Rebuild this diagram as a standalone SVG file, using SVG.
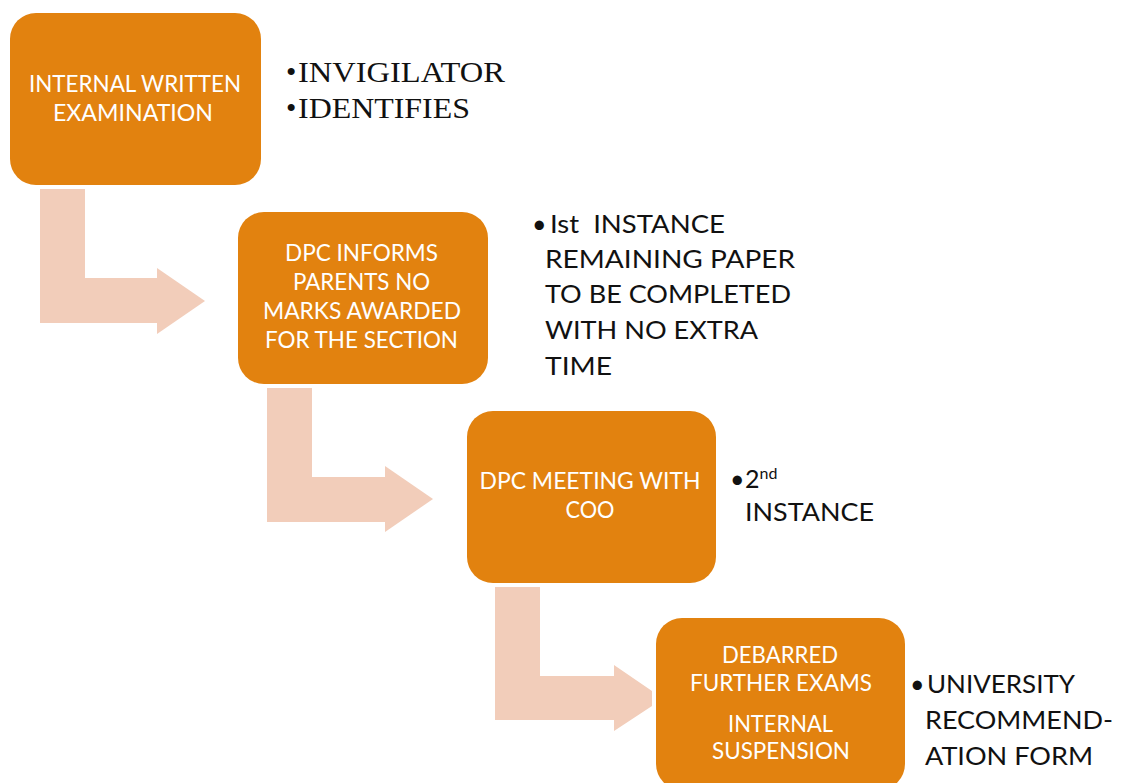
<svg xmlns="http://www.w3.org/2000/svg" width="1127" height="783" viewBox="0 0 1127 783">
<style>
.box{fill:#E2820F;}
.arrow{fill:#F2CDBA;}
.bt{font-family:Lato,"Liberation Sans",sans-serif;font-size:22.5px;fill:#FFFFFF;text-anchor:middle;}
.st{font-family:Lato,"Liberation Sans",sans-serif;font-size:25px;fill:#111111;}
.sf{font-family:"Liberation Serif","Times New Roman",serif;font-size:29.5px;fill:#111111;}
</style>
<rect width="1127" height="783" fill="#FFFFFF"/>
<g id="connectors">
<polygon class="arrow" points="40,189 85,189 85,278 157,278 157,268 205,301 157,334 157,323 40,323"/>
<polygon class="arrow" points="267,388 312,388 312,477 385,477 385,466 433,499 385,532 385,522 267,522"/>
<polygon class="arrow" points="495,587 540,587 540,676 614,676 614,665 652,691 652,706 614,731 614,720 495,720"/>
</g>
<g id="node1">
<rect class="box" x="10" y="13" width="251" height="172" rx="26"/>
<text class="bt" x="135" y="92" textLength="212" lengthAdjust="spacingAndGlyphs">INTERNAL WRITTEN</text>
<text class="bt" x="133" y="121" textLength="160" lengthAdjust="spacingAndGlyphs">EXAMINATION</text>
</g>
<g id="note1">
<text class="sf" x="286" y="82">•</text>
<text class="sf" x="298" y="82" textLength="207" lengthAdjust="spacingAndGlyphs">INVIGILATOR</text>
<text class="sf" x="286" y="118">•</text>
<text class="sf" x="298" y="118" textLength="172" lengthAdjust="spacingAndGlyphs">IDENTIFIES</text>
</g>
<g id="node2">
<rect class="box" x="238" y="212" width="250" height="172" rx="26"/>
<text class="bt" x="361.5" y="261" textLength="153" lengthAdjust="spacingAndGlyphs">DPC INFORMS</text>
<text class="bt" x="361.5" y="290" textLength="137" lengthAdjust="spacingAndGlyphs">PARENTS NO</text>
<text class="bt" x="362" y="319" textLength="198" lengthAdjust="spacingAndGlyphs">MARKS AWARDED</text>
<text class="bt" x="361.5" y="348" textLength="193" lengthAdjust="spacingAndGlyphs">FOR THE SECTION</text>
</g>
<g id="note2">
<text class="st" x="532" y="233">•</text>
<text class="st" x="550" y="233" xml:space="preserve" textLength="175" lengthAdjust="spacingAndGlyphs">Ist  INSTANCE</text>
<text class="st" x="545" y="268" textLength="250" lengthAdjust="spacingAndGlyphs">REMAINING PAPER</text>
<text class="st" x="545" y="303" textLength="246" lengthAdjust="spacingAndGlyphs">TO BE COMPLETED</text>
<text class="st" x="545" y="339" textLength="213" lengthAdjust="spacingAndGlyphs">WITH NO EXTRA</text>
<text class="st" x="545" y="375" textLength="67" lengthAdjust="spacingAndGlyphs">TIME</text>
</g>
<g id="node3">
<rect class="box" x="467" y="411" width="249" height="172" rx="26"/>
<text class="bt" x="590" y="489" textLength="221" lengthAdjust="spacingAndGlyphs">DPC MEETING WITH</text>
<text class="bt" x="590" y="518" textLength="49" lengthAdjust="spacingAndGlyphs">COO</text>
</g>
<g id="note3">
<text class="st" x="730" y="488">•</text>
<text class="st" x="745" y="488">2<tspan font-size="16" dy="-9">nd</tspan></text>
<text class="st" x="745" y="521" textLength="129" lengthAdjust="spacingAndGlyphs">INSTANCE</text>
</g>
<g id="node4">
<rect class="box" x="656" y="618" width="249" height="172" rx="26"/>
<text class="bt" x="780" y="663" textLength="116" lengthAdjust="spacingAndGlyphs">DEBARRED</text>
<text class="bt" x="781" y="691" textLength="182" lengthAdjust="spacingAndGlyphs">FURTHER EXAMS</text>
<text class="bt" x="780.5" y="732" textLength="105" lengthAdjust="spacingAndGlyphs">INTERNAL</text>
<text class="bt" x="781" y="759" textLength="138" lengthAdjust="spacingAndGlyphs">SUSPENSION</text>
</g>
<g id="note4">
<text class="st" x="910" y="693">•</text>
<text class="st" x="927" y="693" textLength="148" lengthAdjust="spacingAndGlyphs">UNIVERSITY</text>
<text class="st" x="925" y="729" textLength="188" lengthAdjust="spacingAndGlyphs">RECOMMEND-</text>
<text class="st" x="925" y="765" textLength="168" lengthAdjust="spacingAndGlyphs">ATION FORM</text>
</g>
</svg>
